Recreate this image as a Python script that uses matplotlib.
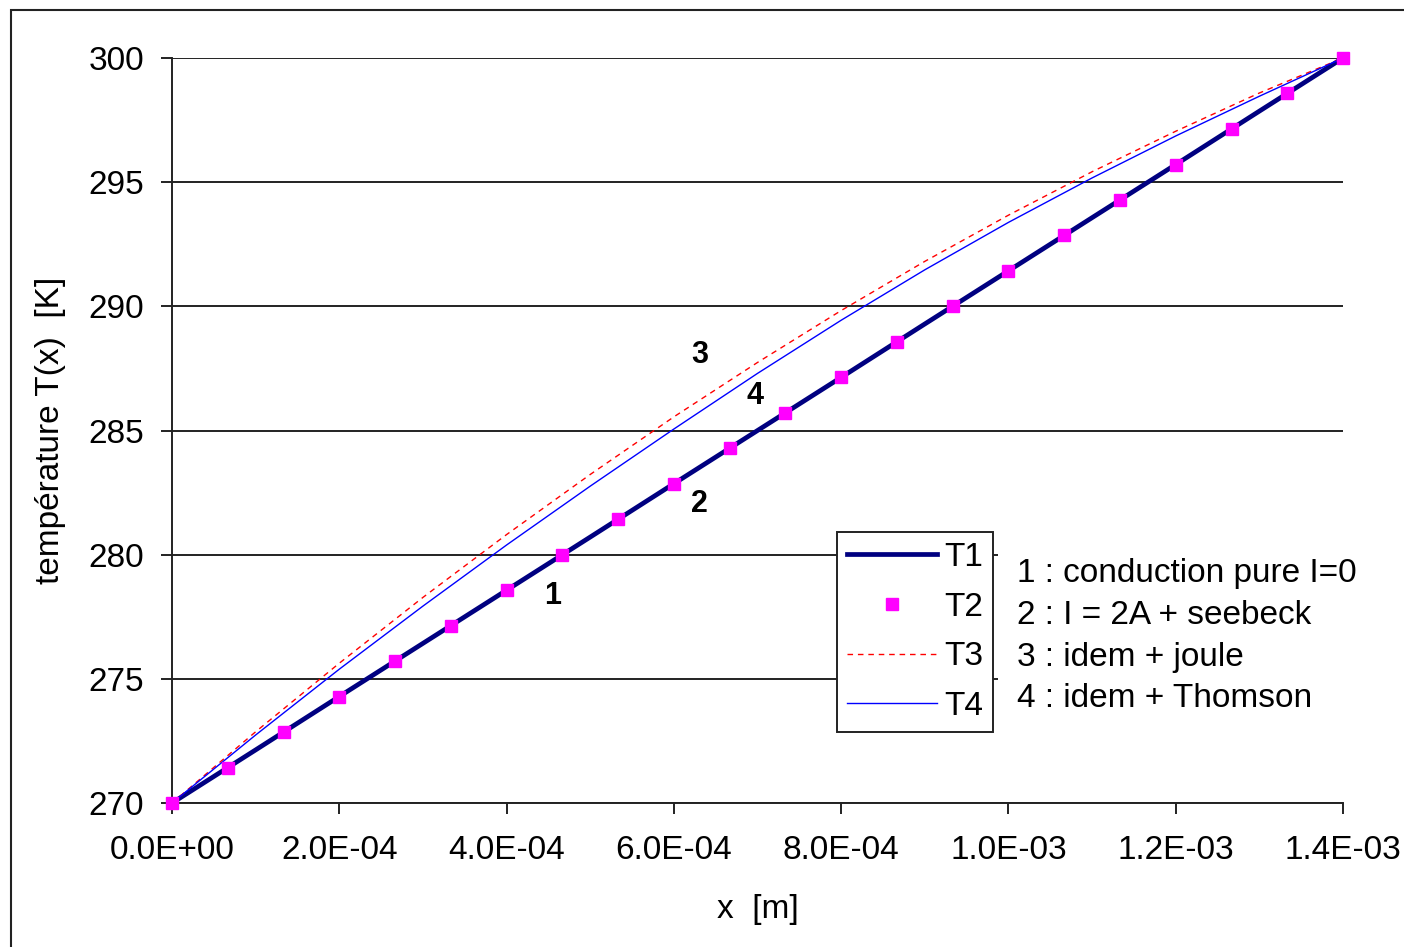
import matplotlib
matplotlib.use("Agg")
import matplotlib.pyplot as plt
from matplotlib.patches import Rectangle
import numpy as np

plt.rcParams['font.family'] = ['Liberation Sans Narrow', 'Liberation Sans', 'DejaVu Sans']

# sampling points (m)
x_fine = np.array([0, 1, 2, 3, 4, 5, 6, 7, 8, 9, 10, 11, 12, 13, 14]) * 1e-4
x_pts = np.arange(22) * (1.4e-3 / 21)

# T1 : pure conduction
T1 = [270.00, 272.14, 274.29, 276.43, 278.57, 280.71, 282.86, 285.00,
      287.14, 289.29, 291.43, 293.57, 295.71, 297.86, 300.00]
# T2 : I = 2A + seebeck (markers)
T2 = [270.00, 271.43, 272.86, 274.29, 275.71, 277.14, 278.57, 280.00,
      281.43, 282.86, 284.29, 285.71, 287.14, 288.57, 290.00, 291.43,
      292.86, 294.29, 295.71, 297.14, 298.57, 300.00]
# T3 : + joule
T3 = [270.00, 272.87, 275.63, 278.28, 280.81, 283.23, 285.55, 287.74,
      289.83, 291.81, 293.67, 295.42, 297.05, 298.59, 300.00]
# T4 : + Thomson
T4 = [270.00, 272.74, 275.39, 277.93, 280.39, 282.76, 285.06, 287.30,
      289.44, 291.47, 293.38, 295.17, 296.86, 298.46, 300.00]

xticks = np.arange(0, 1.41e-3, 2e-4)
xtick_labels = ['0.0E+00', '2.0E-04', '4.0E-04', '6.0E-04', '8.0E-04',
                '1.0E-03', '1.2E-03', '1.4E-03']
notes = ['1 : conduction pure I=0', '2 : I = 2A + seebeck',
         '3 : idem + joule', '4 : idem + Thomson']

fs = 24

fig = plt.figure(figsize=(14.04, 9.47), dpi=100)
ax = fig.add_axes([0.1225, 0.152, 0.8341, 0.7868])

# outer frame (right/bottom edges are cut off in the original)
fig.patches.append(Rectangle((11 / 1404, -0.05), 1.1, 1 - 10 / 947 + 0.05,
                             transform=fig.transFigure, fill=False,
                             edgecolor='#222222', linewidth=1.5))

ax.plot(x_fine, T1, color='#000080', linewidth=3.4, label='T1', zorder=3)
ax.plot(x_pts, T2, linestyle='none', marker='s', markersize=8.5,
        color='#FF00FF', label='T2', zorder=4, clip_on=False)
ax.plot(x_fine, T3, color='#FF0000', linewidth=1.0, dashes=(4, 3.5),
        label='T3', zorder=3)
ax.plot(x_fine, T4, color='#0000FF', linewidth=1.0, label='T4', zorder=3)

ax.set_xlim(0, 1.4e-3)
ax.set_ylim(270, 300)
ax.set_xticks(xticks)
ax.set_xticklabels(xtick_labels)
ax.set_yticks(np.arange(270, 301, 5))
ax.set_axisbelow(True)
ax.yaxis.grid(True, color='#222222', linewidth=1.4)
ax.spines['top'].set_visible(False)
ax.spines['right'].set_visible(False)
for s in ('left', 'bottom'):
    ax.spines[s].set_color('#222222')
    ax.spines[s].set_linewidth(1.4)
ax.tick_params(axis='both', direction='out', length=8, width=1.4,
               color='#222222', labelsize=fs, pad=12)
ax.tick_params(axis='x', pad=15)

ax.set_xlabel('x  [m]', fontsize=fs, labelpad=20)
ax.set_ylabel('température T(x)  [K]', fontsize=fs, labelpad=16)

# curve numbers
for xx, yy, s in [(4.555e-4, 278.33, '1'), (6.31e-4, 282.04, '2'),
                  (6.31e-4, 288.04, '3'), (6.97e-4, 286.39, '4')]:
    ax.text(xx, yy, s, fontsize=22, fontweight='bold',
            ha='center', va='center', family=['Liberation Sans'])

leg = ax.legend(loc='lower left', bbox_to_anchor=(0.568, 0.0953),
                fontsize=fs, frameon=True, fancybox=False, framealpha=1,
                edgecolor='#222222', handlelength=2.7, handletextpad=0.2,
                labelspacing=0.56, borderpad=0.3, borderaxespad=0,
                numpoints=1)
leg.get_frame().set_linewidth(1.4)

# white note box covering the grid
ax.add_patch(Rectangle((0.705, 0.118), 0.295, 0.224, transform=ax.transAxes,
                       facecolor='white', edgecolor='none', zorder=1))
for i, s in enumerate(notes):
    ax.text(1.010e-3, 279.26 - i * 1.69, s, fontsize=fs, ha='left',
            va='center', zorder=5)

fig.savefig('out.png', dpi=100)
